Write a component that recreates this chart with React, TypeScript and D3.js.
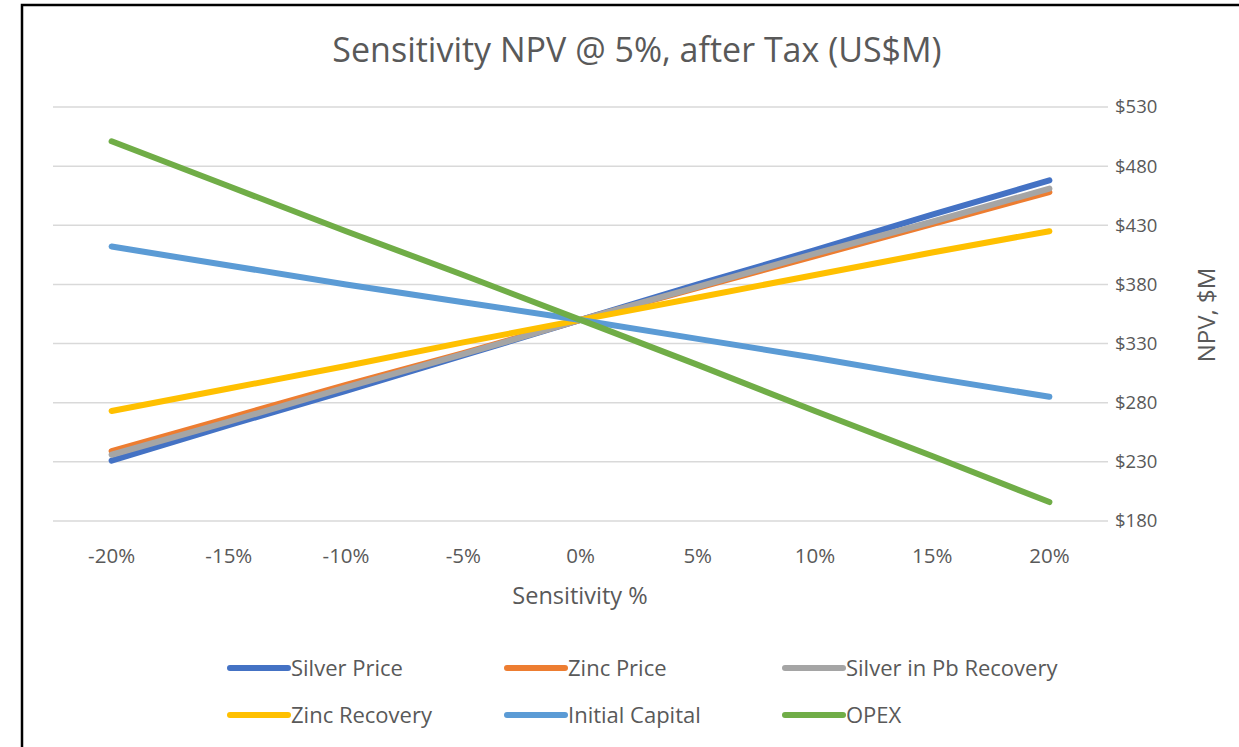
import React, { useRef, useEffect } from 'react';
import * as d3 from 'd3';

// sensitivity steps along the x axis
const categories = ['-20%', '-15%', '-10%', '-5%', '0%', '5%', '10%', '15%', '20%'];

// NPV (US$M) per sensitivity step
const silverPrice = [231, 261, 290, 320, 350, 380, 409, 439, 468];
const zincPrice = [239, 267, 295, 322, 350, 377, 404, 431, 458];
const silverPbRecovery = [236, 264, 293, 321, 350, 378, 406, 433, 461];
const zincRecovery = [273, 292, 311, 331, 350, 369, 388, 407, 425];
const initialCapital = [412, 396, 380, 365, 350, 334, 318, 301, 285];
const opex = [501, 463, 425, 388, 350, 312, 273, 235, 196];

const yTicks = [180, 230, 280, 330, 380, 430, 480, 530];

const seriesNames = ['Silver Price', 'Zinc Price', 'Silver in Pb Recovery', 'Zinc Recovery', 'Initial Capital', 'OPEX'];
const seriesColors = ['#4472C4', '#ED7D31', '#A5A5A5', '#FFC000', '#5B9BD5', '#70AD47'];

const W = 1239;
const H = 747;
const FONT = '"Open Sans", Lato, sans-serif';

export default function App() {
  const ref = useRef<SVGSVGElement | null>(null);

  useEffect(() => {
    if (!ref.current) return;
    const svg = d3.select(ref.current);
    svg.selectAll('*').remove();

    const seriesValues = [silverPrice, zincPrice, silverPbRecovery, zincRecovery, initialCapital, opex];

    const x = d3.scaleBand<string>().domain(categories).range([53, 1108]);
    const y = d3.scaleLinear().domain([180, 530]).range([521, 107]);
    const cx = (c: string) => (x(c) ?? 0) + x.bandwidth() / 2;

    svg.append('rect').attr('width', W).attr('height', H).attr('fill', '#ffffff');

    // chart frame (only top/left visible in the crop)
    svg.append('rect')
      .attr('x', 22).attr('y', 5)
      .attr('width', W + 20).attr('height', H + 20)
      .attr('fill', 'none').attr('stroke', '#000').attr('stroke-width', 2.5);

    // title
    svg.append('text')
      .attr('x', 637).attr('y', 62)
      .attr('text-anchor', 'middle')
      .attr('font-family', FONT).attr('font-size', 34)
      .attr('fill', '#595959')
      .text('Sensitivity NPV @ 5%, after Tax (US$M)');

    // grid
    svg.append('g').selectAll('line')
      .data(yTicks)
      .join('line')
      .attr('x1', 53).attr('x2', 1108)
      .attr('y1', (d) => y(d)).attr('y2', (d) => y(d))
      .attr('stroke', '#d9d9d9').attr('stroke-width', 1.5);

    // right axis labels
    svg.append('g').selectAll('text')
      .data(yTicks)
      .join('text')
      .attr('x', 1115).attr('y', (d) => y(d))
      .attr('dy', '0.35em')
      .attr('font-family', FONT).attr('font-size', 18.5)
      .attr('fill', '#595959')
      .text((d) => '$' + d);

    // x axis labels
    svg.append('g').selectAll('text')
      .data(categories)
      .join('text')
      .attr('x', (d) => cx(d)).attr('y', 556)
      .attr('dy', '0.35em')
      .attr('text-anchor', 'middle')
      .attr('font-family', FONT).attr('font-size', 20.5)
      .attr('fill', '#595959')
      .text((d) => d);

    svg.append('text')
      .attr('x', 580).attr('y', 596)
      .attr('dy', '0.35em')
      .attr('text-anchor', 'middle')
      .attr('font-family', FONT).attr('font-size', 23.5)
      .attr('fill', '#595959')
      .text('Sensitivity %');

    svg.append('text')
      .attr('transform', 'translate(1207,315) rotate(-90)')
      .attr('dy', '0.35em')
      .attr('text-anchor', 'middle')
      .attr('font-family', FONT).attr('font-size', 24)
      .attr('fill', '#595959')
      .text('NPV, $M');

    // lines
    const line = d3.line<number>()
      .x((_d, i) => cx(categories[i]))
      .y((d) => y(d));

    svg.append('g').selectAll('path')
      .data(seriesValues)
      .join('path')
      .attr('d', (d) => line(d))
      .attr('fill', 'none')
      .attr('stroke', (_d, i) => seriesColors[i])
      .attr('stroke-width', 6)
      .attr('stroke-linecap', 'round');

    // legend
    const legendCols = [230, 507, 785];
    const legendRows = [668, 715];
    const lg = svg.append('g').selectAll('g')
      .data(seriesNames)
      .join('g')
      .attr('transform', (_d, i) => `translate(${legendCols[i % 3]},${legendRows[Math.floor(i / 3)]})`);
    lg.append('line')
      .attr('x1', 0).attr('x2', 58)
      .attr('stroke', (_d, i) => seriesColors[i])
      .attr('stroke-width', 6)
      .attr('stroke-linecap', 'round');
    lg.append('text')
      .attr('x', 61)
      .attr('dy', '0.35em')
      .attr('font-family', FONT).attr('font-size', 22)
      .attr('fill', '#595959')
      .text((d) => d);
  }, []);

  return (
    <svg
      ref={ref}
      width={W}
      height={H}
      style={{ position: 'absolute', left: 0, top: 0, display: 'block' }}
    />
  );
}
